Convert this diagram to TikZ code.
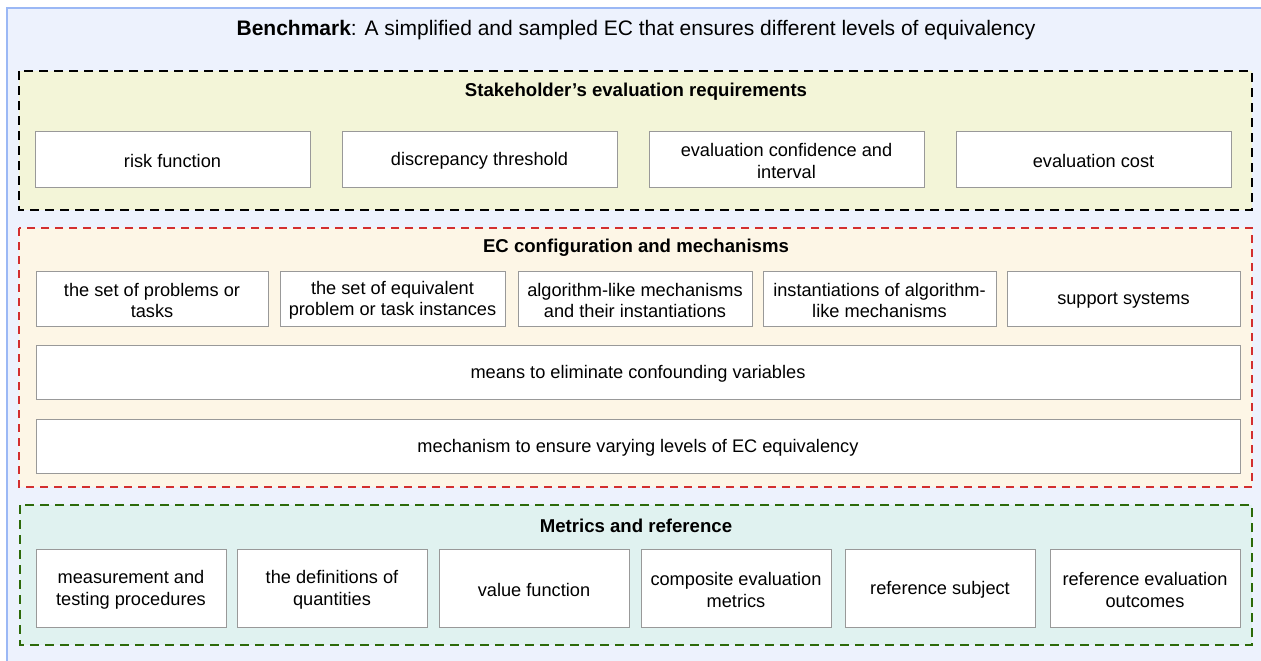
\documentclass[tikz,border=0pt]{standalone}
\usepackage{fontspec}
\setmainfont{Liberation Sans}
\hyphenpenalty=10000
\definecolor{outerfill}{HTML}{EDF2FD}
\definecolor{outerline}{HTML}{9BB8F5}
\definecolor{yfill}{HTML}{F3F5D8}
\definecolor{rfill}{HTML}{FDF6E6}
\definecolor{rline}{HTML}{D32F2F}
\definecolor{gfill}{HTML}{E0F2F0}
\definecolor{gline}{HTML}{2D6A0A}
\definecolor{boxline}{HTML}{999999}
\tikzset{
  itembox/.style={draw=boxline, line width=0.9pt, fill=white, align=center, inner sep=0pt,
    font=\fontsize{18.2}{21.5}\selectfont},
  itemtext/.style={align=center, inner sep=0pt, font=\fontsize{18.2}{21.5}\selectfont},
  grouptitle/.style={font=\fontsize{18.6}{22}\selectfont\bfseries, anchor=center},
  groupbox/.style={line width=2pt, dash pattern=on 9pt off 6pt},
}
\newcommand{\itemat}[6]{% name, x1, y1, x2, y2, text
  \node[itembox, minimum width={#4-#2}, minimum height={#5-#3}]
    (#1) at ({(#2+#4)/2},{(#3+#5)/2}) {};
  \node[itemtext, yshift=-2pt] at (#1.center) {#6};}
\begin{document}
\begin{tikzpicture}[x=1pt,y=-1pt]
\useasboundingbox (0,0) rectangle (1261,661);
\clip (0,0) rectangle (1261,661);
% outer benchmark box
\draw[fill=outerfill, draw=outerline, line width=2pt] (7,8) rectangle (1275,680);
\node[font=\fontsize{21}{22}\selectfont] (title) at (636,30) {\textbf{Benchmark}: A simplified and sampled EC that ensures different levels of equivalency};
% group boxes
\draw[groupbox, draw=black, fill=yfill] (19,71) rectangle (1252,210);
\draw[groupbox, draw=rline, fill=rfill, dash pattern=on 8pt off 6pt] (19,228) rectangle (1252,487);
\draw[groupbox, draw=gline, fill=gfill, dash pattern=on 9pt off 6pt] (20,505) rectangle (1252,645);
\node[grouptitle] (t1) at (636,92) {Stakeholder’s evaluation requirements};
\node[grouptitle] (t2) at (636,248) {EC configuration and mechanisms};
\node[grouptitle] (t3) at (636,526) {Metrics and reference};
% stakeholder
\itemat{s1}{35}{131}{310}{187}{risk function}
\itemat{s2}{342}{131}{617}{187}{discrepancy threshold}
\itemat{s3}{649}{131}{924}{187}{evaluation confidence and\\interval}
\itemat{s4}{956}{131}{1231}{187}{evaluation cost}
% EC configuration
\itemat{c1}{36}{271}{268}{326}{the set of problems or\\tasks}
\itemat{c2}{280}{271}{505}{326}{the set of equivalent\\problem or task instances}
\itemat{c3}{518}{271}{752}{326}{algorithm-like mechanisms\\and their instantiations}
\itemat{c4}{763}{271}{996}{326}{instantiations of algorithm-\\like mechanisms}
\itemat{c5}{1007}{271}{1240}{326}{support systems}
\itemat{c6}{36}{345}{1240}{399}{means to eliminate confounding variables}
\itemat{c7}{36}{419}{1240}{473}{mechanism to ensure varying levels of EC equivalency}
% metrics
\itemat{m1}{36}{549}{226}{627}{measurement and\\testing procedures}
\itemat{m2}{237}{549}{427}{627}{the definitions of\\quantities}
\itemat{m3}{439}{549}{629}{627}{value function}
\itemat{m4}{641}{549}{831}{627}{composite evaluation\\metrics}
\itemat{m5}{845}{549}{1035}{627}{reference subject}
\itemat{m6}{1050}{549}{1240}{627}{reference evaluation\\outcomes}
\end{tikzpicture}
\end{document}
